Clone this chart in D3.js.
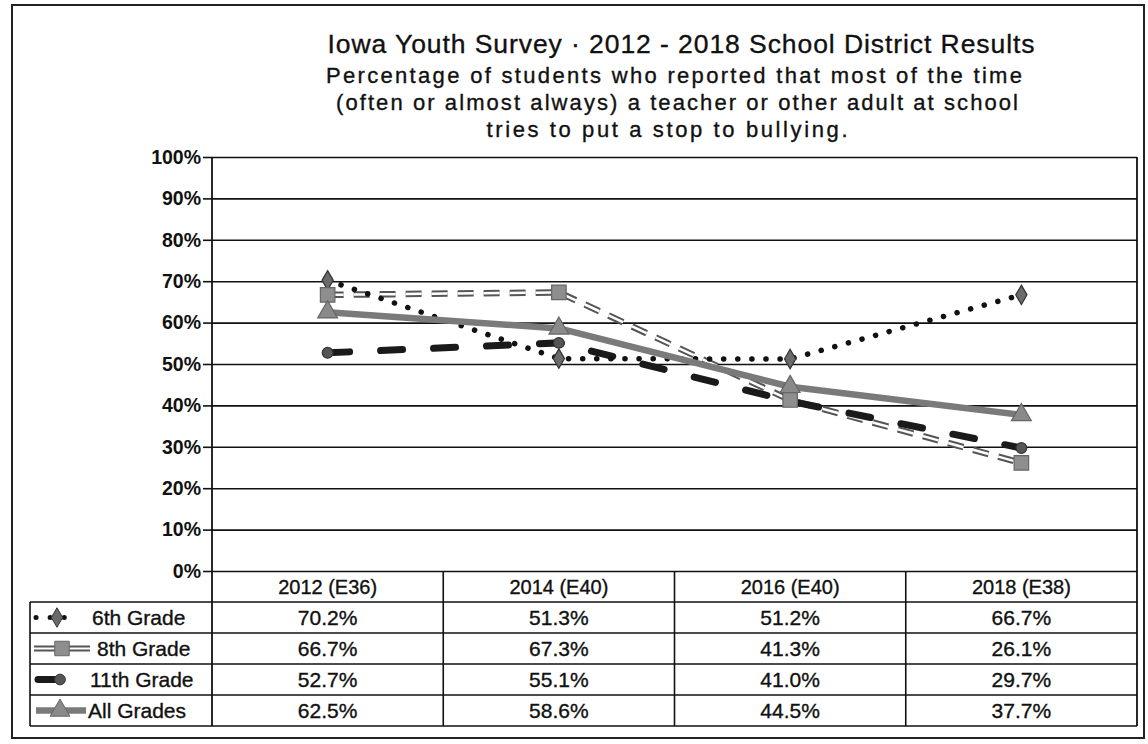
<!DOCTYPE html>
<html>
<head>
<meta charset="utf-8">
<script src="https://cdn.jsdelivr.net/npm/d3@7"></script>
<style>
  html, body { margin: 0; padding: 0; background: #fff; }
  svg { display: block; font-family: "Liberation Sans", Arial, sans-serif; }
</style>
</head>
<body>
<svg id="chart" width="1148" height="744"></svg>
<script>
// ---- data ----
const categories = ["2012 (E36)", "2014 (E40)", "2016 (E40)", "2018 (E38)"];
const seriesNames = ["6th Grade", "8th Grade", "11th Grade", "All Grades"];
const grade6 = [70.2, 51.3, 51.2, 66.7];
const grade8 = [66.7, 67.3, 41.3, 26.1];
const grade11 = [52.7, 55.1, 41.0, 29.7];
const allGrades = [62.5, 58.6, 44.5, 37.7];
const yTicks = [0, 10, 20, 30, 40, 50, 60, 70, 80, 90, 100];
const titleLines = [
  "Iowa Youth Survey \u00b7 2012 - 2018 School District Results",
  "Percentage  of students who reported that most of the time",
  "(often  or almost  always)  a teacher or other adult  at school",
  "tries to put a stop to bullying."
];

const series = [
  { name: seriesNames[0], values: grade6 },
  { name: seriesNames[1], values: grade8 },
  { name: seriesNames[2], values: grade11 },
  { name: seriesNames[3], values: allGrades }
];

// ---- layout ----
const svg = d3.select("#chart");
const plot = { left: 212, right: 1137, top: 157, bottom: 571 };
const rowH = 31;
const tableTop = plot.bottom;
const headerBottom = tableTop + 31;
const legendLeft = 30;
const ink = "#111";

const x = d3.scaleBand().domain(categories).range([plot.left, plot.right]).padding(0);
const y = d3.scaleLinear().domain([0, 100]).range([plot.bottom, plot.top]);
const cx = c => x(c) + x.bandwidth() / 2;

// outer border
svg.append("rect").attr("x", 12).attr("y", 5).attr("width", 1132).attr("height", 733)
  .attr("fill", "none").attr("stroke", "#222").attr("stroke-width", 2);

// title
const titleSpec = [
  { y: 53, size: 26.5, len: 707, cx: 681 },
  { y: 83, size: 22, len: 696, cx: 674 },
  { y: 110, size: 22, len: 682, cx: 677 },
  { y: 137, size: 22, len: 361, cx: 667 }
];
titleLines.forEach((t, i) => {
  svg.append("text").attr("x", titleSpec[i].cx).attr("y", titleSpec[i].y)
    .attr("text-anchor", "middle").attr("font-size", titleSpec[i].size)
    .attr("fill", ink).attr("stroke", ink).attr("stroke-width", 0.35)
    .attr("textLength", titleSpec[i].len).attr("lengthAdjust", "spacing")
    .text(t);
});

// gridlines
const grid = svg.append("g").attr("transform", `translate(${plot.left},0)`)
  .call(d3.axisLeft(y).tickValues(yTicks).tickSize(-(plot.right - plot.left)).tickFormat(""));
grid.select(".domain").remove();
grid.selectAll("line").attr("stroke", ink).attr("stroke-width", 1.6);

// y axis with tick labels
const yAxis = svg.append("g").attr("transform", `translate(${plot.left},0)`)
  .call(d3.axisLeft(y).tickValues(yTicks).tickSize(9).tickPadding(2).tickFormat(d => d + "%"));
yAxis.select(".domain").remove();
yAxis.selectAll("line").attr("stroke", ink).attr("stroke-width", 1.6);
yAxis.selectAll("text").attr("font-size", 19.5).attr("font-weight", "bold").attr("fill", ink)
  .attr("font-family", "'Liberation Sans', Arial, sans-serif");

// plot frame
svg.append("line").attr("x1", plot.left).attr("x2", plot.left).attr("y1", plot.top).attr("y2", tableTop + rowH * 5)
  .attr("stroke", ink).attr("stroke-width", 1.8);
svg.append("line").attr("x1", plot.right).attr("x2", plot.right).attr("y1", plot.top).attr("y2", tableTop + rowH * 5)
  .attr("stroke", ink).attr("stroke-width", 1.8);

// ---- series ----
const line = d3.line().x((d, i) => cx(categories[i])).y(d => y(d));
const gLines = svg.append("g");

gLines.append("path").attr("d", line(grade8)).attr("fill", "none")
  .attr("stroke", "#555").attr("stroke-width", 6.5).attr("stroke-dasharray", "16 10");
gLines.append("path").attr("d", line(grade8)).attr("fill", "none")
  .attr("stroke", "#fff").attr("stroke-width", 2.5).attr("stroke-dasharray", "16 10");

gLines.append("path").attr("d", line(grade11)).attr("fill", "none")
  .attr("stroke", "#1a1a1a").attr("stroke-width", 7).attr("stroke-linecap", "round")
  .attr("stroke-dasharray", "22 31");

gLines.append("path").attr("d", line(grade6)).attr("fill", "none")
  .attr("stroke", ink).attr("stroke-width", 5.5).attr("stroke-linecap", "round")
  .attr("stroke-dasharray", "0.1 14");

gLines.append("path").attr("d", line(allGrades)).attr("fill", "none")
  .attr("stroke", "#7a7a7a").attr("stroke-width", 6.5).attr("stroke-linejoin", "round");

// markers
const sym = {
  "6th Grade": d3.symbol().type(d3.symbolDiamond).size(110),
  "8th Grade": d3.symbol().type(d3.symbolSquare).size(210),
  "11th Grade": d3.symbol().type(d3.symbolCircle).size(90),
  "All Grades": d3.symbol().type(d3.symbolTriangle).size(170)
};
const symFill = { "6th Grade": "#6a6a6a", "8th Grade": "#8e8e8e", "11th Grade": "#555", "All Grades": "#8a8a8a" };
const symStroke = { "6th Grade": "#333", "8th Grade": "#666", "11th Grade": "#333", "All Grades": "#666" };
const markerOrder = [series[0], series[2], series[1], series[3]];
markerOrder.forEach(s => {
  svg.append("g").selectAll("path").data(s.values).join("path")
    .attr("transform", (d, i) => `translate(${cx(categories[i])},${y(d)})`)
    .attr("d", sym[s.name]())
    .attr("fill", symFill[s.name]).attr("stroke", symStroke[s.name]).attr("stroke-width", 1.2);
});

// ---- data table ----
const tbl = svg.append("g");
for (let r = 1; r <= 5; r++) {
  const yy = tableTop + r * rowH;
  tbl.append("line").attr("x1", legendLeft).attr("x2", plot.right)
    .attr("y1", yy).attr("y2", yy).attr("stroke", ink).attr("stroke-width", 1.6);
}
categories.forEach((c, i) => {
  if (i === 0) return;
  tbl.append("line").attr("x1", x(c)).attr("x2", x(c)).attr("y1", tableTop).attr("y2", tableTop + rowH * 5)
    .attr("stroke", ink).attr("stroke-width", 1.6);
});
tbl.append("line").attr("x1", legendLeft).attr("x2", legendLeft).attr("y1", headerBottom).attr("y2", tableTop + rowH * 5)
  .attr("stroke", ink).attr("stroke-width", 1.6);

const txt = (sel, size) => sel.attr("font-size", size).attr("fill", ink).attr("stroke", ink).attr("stroke-width", 0.35);

// headers
tbl.selectAll("text.hdr").data(categories).join("text").attr("class", "hdr")
  .attr("x", d => cx(d)).attr("y", tableTop + rowH / 2 + 7)
  .attr("text-anchor", "middle").call(txt, 20).text(d => d);

// values and series labels
const labelX = [92, 97, 90, 88];
series.forEach((s, r) => {
  const yy = headerBottom + r * rowH + rowH / 2 + 7.5;
  tbl.append("g").selectAll("text").data(s.values).join("text")
    .attr("x", (d, i) => cx(categories[i])).attr("y", yy)
    .attr("text-anchor", "middle").call(txt, 21)
    .text(d => d.toFixed(1) + "%");
  tbl.append("text").attr("x", labelX[r]).attr("y", yy).call(txt, 21).text(s.name);
});

// legend keys
const keyY = r => headerBottom + r * rowH + rowH / 2;
tbl.append("path").attr("d", `M${36},${keyY(0)}H${78}`).attr("stroke", ink).attr("stroke-width", 5)
  .attr("stroke-linecap", "round").attr("stroke-dasharray", "0.1 14");
tbl.append("path").attr("transform", `translate(${57},${keyY(0)})`).attr("d", sym["6th Grade"]())
  .attr("fill", symFill["6th Grade"]).attr("stroke", symStroke["6th Grade"]);
tbl.append("path").attr("d", `M${34},${keyY(1)}H${90}`).attr("stroke", "#555").attr("stroke-width", 6);
tbl.append("path").attr("d", `M${34},${keyY(1)}H${90}`).attr("stroke", "#fff").attr("stroke-width", 2);
tbl.append("path").attr("transform", `translate(${62},${keyY(1)})`).attr("d", sym["8th Grade"]())
  .attr("fill", symFill["8th Grade"]).attr("stroke", symStroke["8th Grade"]);
tbl.append("path").attr("d", `M${38},${keyY(2)}H${58}`).attr("stroke", "#1a1a1a").attr("stroke-width", 7)
  .attr("stroke-linecap", "round");
tbl.append("path").attr("transform", `translate(${60},${keyY(2)})`).attr("d", sym["11th Grade"]())
  .attr("fill", symFill["11th Grade"]).attr("stroke", symStroke["11th Grade"]);
tbl.append("path").attr("d", `M${36},${keyY(3)}H${86}`).attr("stroke", "#7a7a7a").attr("stroke-width", 6.5);
tbl.append("path").attr("transform", `translate(${60},${keyY(3)})`).attr("d", sym["All Grades"]())
  .attr("fill", symFill["All Grades"]).attr("stroke", symStroke["All Grades"]);
</script>
</body>
</html>
